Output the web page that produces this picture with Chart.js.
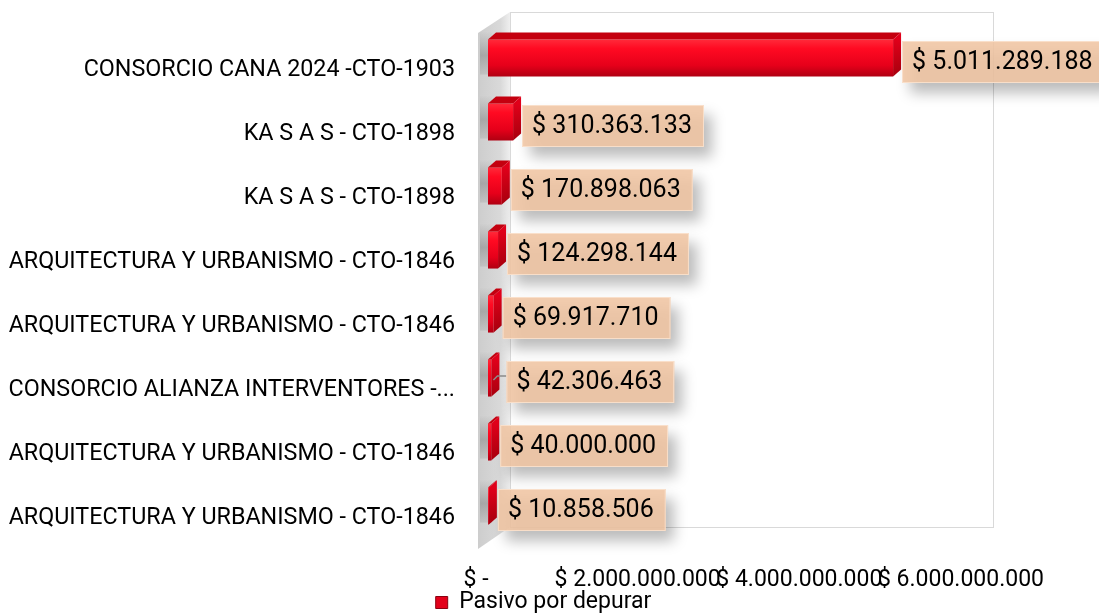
<!DOCTYPE html>
<html>
<head>
<meta charset="utf-8">
<script src="https://cdn.jsdelivr.net/npm/chart.js@4.4.1/dist/chart.umd.min.js"></script>
<style>
  html, body { margin: 0; padding: 0; background: #fff; }
  #wrap { width: 1099px; height: 614px; }
</style>
</head>
<body>
<div id="wrap"><canvas id="chart" width="1099" height="614"></canvas></div>
<script>
// data
const contratistas = [
  "CONSORCIO CANA 2024 -CTO-1903",
  "KA S A S - CTO-1898",
  "KA S A S - CTO-1898",
  "ARQUITECTURA Y URBANISMO - CTO-1846",
  "ARQUITECTURA Y URBANISMO - CTO-1846",
  "CONSORCIO ALIANZA INTERVENTORES -...",
  "ARQUITECTURA Y URBANISMO - CTO-1846",
  "ARQUITECTURA Y URBANISMO - CTO-1846"
];
const pasivo = [5011289188, 310363133, 170898063, 124298144, 69917710, 42306463, 40000000, 10858506];
const xTicks = [0, 2000000000, 4000000000, 6000000000];
const serieNombre = "Pasivo por depurar";

const FONT = "Roboto, 'Liberation Sans', sans-serif";

function pesos(v) {
  if (v === 0) return "$ -";
  return "$ " + String(Math.round(v)).replace(/\B(?=(\d{3})+(?!\d))/g, ".");
}

const DX = 8, DY = 7; // bar depth

// walls, 3d faces and the boxed labels
const efecto3d = {
  id: "efecto3d",
  afterLayout(chart) {
    // put the legend where the original has it
    const lg = chart.legend;
    const sx = 57;
    const sy = 606 - (lg.top + lg.bottom) / 2;
    lg.left += sx; lg.right += sx;
    lg.top += sy; lg.bottom += sy;
    // let the x tick labels run below the axis box
    chart.scales.x.bottom = chart.height;
  },
  beforeDatasetsDraw(chart) {
    const { ctx, chartArea: ca } = chart;
    ctx.save();
    // back wall
    const bl = ca.left + 22, bt = ca.top - 14, br = ca.right + 20, bb = ca.bottom - 11;
    ctx.fillStyle = "#fff";
    ctx.fillRect(bl, bt, br - bl, bb - bt);
    ctx.strokeStyle = "#d9d9d9";
    ctx.lineWidth = 1;
    ctx.strokeRect(bl + 0.5, bt + 0.5, br - bl, bb - bt);
    // side wall
    const fx = ca.left - 10;
    const g = ctx.createLinearGradient(fx, 0, bl, 0);
    g.addColorStop(0, "#cdcdcd");
    g.addColorStop(0.7, "#d9d9d9");
    g.addColorStop(1, "#efefef");
    ctx.fillStyle = g;
    ctx.beginPath();
    ctx.moveTo(fx, ca.top + 7);
    ctx.lineTo(bl, bt);
    ctx.lineTo(bl, bb);
    ctx.lineTo(fx, ca.bottom + 11);
    ctx.closePath();
    ctx.fill();
    // bar shadows on the side wall
    const meta = chart.getDatasetMeta(0);
    meta.data.forEach(bar => {
      const h = bar.height;
      const sg = ctx.createLinearGradient(0, bar.y - h / 2 - 8, 0, bar.y + h / 2 + 8);
      sg.addColorStop(0, "rgba(90,90,90,0)");
      sg.addColorStop(0.45, "rgba(90,90,90,0.35)");
      sg.addColorStop(1, "rgba(90,90,90,0)");
      ctx.fillStyle = sg;
      ctx.fillRect(fx + 2, bar.y - h / 2 - 8, 12, h + 6);
    });
    ctx.restore();
  },
  afterDatasetsDraw(chart) {
    const { ctx } = chart;
    const meta = chart.getDatasetMeta(0);
    ctx.save();
    meta.data.forEach(bar => {
      const x0 = bar.base, x1 = bar.x;
      const yT = bar.y - bar.height / 2, yB = bar.y + bar.height / 2;
      // top face
      ctx.fillStyle = "#c4000f";
      ctx.beginPath();
      ctx.moveTo(x0, yT);
      ctx.lineTo(x0 + DX, yT - DY);
      ctx.lineTo(x1 + DX, yT - DY);
      ctx.lineTo(x1, yT);
      ctx.closePath();
      ctx.fill();
      // right face
      const rg = ctx.createLinearGradient(0, yT, 0, yB);
      rg.addColorStop(0, "#e0001a");
      rg.addColorStop(1, "#a8000e");
      ctx.fillStyle = rg;
      ctx.beginPath();
      ctx.moveTo(x1, yT);
      ctx.lineTo(x1 + DX, yT - DY);
      ctx.lineTo(x1 + DX, yB - DY);
      ctx.lineTo(x1, yB);
      ctx.closePath();
      ctx.fill();
    });
    ctx.restore();
  },
  afterDraw(chart) {
    const { ctx } = chart;
    const meta = chart.getDatasetMeta(0);
    ctx.save();
    ctx.font = "25px " + FONT;
    ctx.textBaseline = "middle";
    meta.data.forEach((bar, i) => {
      const txt = pesos(pasivo[i]);
      const tw = ctx.measureText(txt).width;
      const extra = i === 5 ? 6 : 0;
      const bx = bar.x + DX + 1 + extra;
      const bw = tw + 22, bh = 42;
      const by = bar.y + 4 - bh / 2;
      if (extra) {
        ctx.strokeStyle = "#8c8c8c";
        ctx.lineWidth = 1.5;
        ctx.beginPath();
        ctx.moveTo(bar.x + 2, bar.y + 2);
        ctx.lineTo(bar.x + 6, bar.y - 2);
        ctx.lineTo(bx, bar.y - 2);
        ctx.stroke();
      }
      ctx.save();
      ctx.shadowColor = "rgba(0,0,0,0.3)";
      ctx.shadowBlur = 14;
      ctx.shadowOffsetX = 8;
      ctx.shadowOffsetY = 10;
      ctx.fillStyle = "rgba(240,197,163,0.88)";
      ctx.fillRect(bx, by, bw, bh);
      ctx.restore();
      ctx.strokeStyle = "rgba(250,225,205,0.9)";
      ctx.lineWidth = 1;
      ctx.strokeRect(bx + 0.5, by + 0.5, bw - 1, bh - 1);
      ctx.fillStyle = "#000";
      ctx.fillText(txt, bx + 10, by + bh / 2 + 1);
    });
    ctx.restore();
  }
};

new Chart(document.getElementById("chart"), {
  type: "bar",
  data: {
    labels: contratistas,
    datasets: [{
      label: serieNombre,
      data: pasivo,
      barPercentage: 0.58,
      categoryPercentage: 1,
      borderWidth: 0,
      backgroundColor(c) {
        const chart = c.chart;
        const ys = chart.scales.y;
        if (!chart.chartArea || !ys || c.dataIndex === undefined) return "#e8001c";
        const yc = ys.getPixelForValue(c.dataIndex);
        const h = ys.height / contratistas.length * 0.58;
        const g = chart.ctx.createLinearGradient(0, yc - h / 2, 0, yc + h / 2);
        g.addColorStop(0, "#ff2a3a");
        g.addColorStop(0.25, "#ff0a22");
        g.addColorStop(0.7, "#e6001a");
        g.addColorStop(1, "#b00012");
        return g;
      }
    }]
  },
  options: {
    responsive: false,
    animation: false,
    indexAxis: "y",
    layout: { padding: { top: 26, right: 126, left: 0, bottom: 0 } },
    scales: {
      y: {
        grid: { display: false, drawTicks: true, tickLength: 33 },
        border: { display: false },
        ticks: {
          autoSkip: false,
          color: "#000",
          font: { family: FONT, size: 23.3 },
          padding: 0,
          labelOffset: 12
        },
        afterFit(s) { s.width = 488; }
      },
      x: {
        min: 0,
        max: 6000000000,
        afterBuildTicks(s) { s.ticks = xTicks.map(v => ({ value: v })); },
        grid: { display: false, drawTicks: false },
        border: { display: false },
        ticks: {
          color: "#000",
          font: { family: FONT, size: 23 },
          padding: 28,
          labelOffset: -12,
          maxRotation: 0,
          autoSkip: false,
          callback: v => pesos(v)
        },
        afterFit(s) { s.height = s.chart.height - 538 - s.chart.legend.height; }
      }
    },
    plugins: {
      legend: {
        position: "bottom",
        labels: {
          boxWidth: 12,
          boxHeight: 12,
          padding: 3,
          color: "#000",
          font: { family: FONT, size: 23 },
          generateLabels() {
            return [{
              text: serieNombre,
              fillStyle: "#e3001a",
              strokeStyle: "#8a0010",
              lineWidth: 1,
              datasetIndex: 0
            }];
          }
        }
      },
      tooltip: { enabled: false }
    }
  },
  plugins: [efecto3d]
});
</script>
</body>
</html>
